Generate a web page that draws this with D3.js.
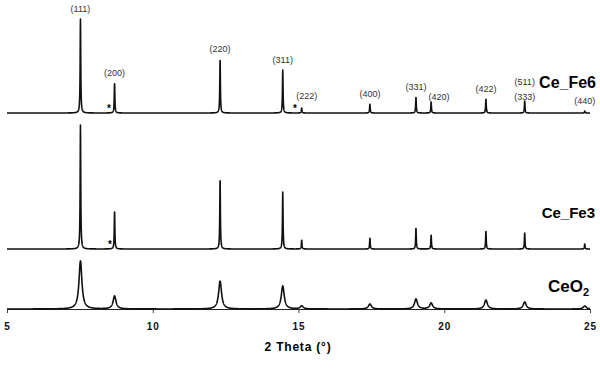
<!DOCTYPE html>
<html>
<head>
<meta charset="utf-8">
<script src="https://cdn.jsdelivr.net/npm/d3@7"></script>
<style>
  body { margin: 0; background: #fff; }
  svg { display: block; font-family: "Liberation Sans", Arial, sans-serif; }
</style>
</head>
<body>
<svg id="chart" width="600" height="375"></svg>
<script>
// reflections, shared by the three patterns
const hkl = ["(111)", "(200)", "(220)", "(311)", "(222)", "(400)", "(331)", "(420)", "(422)", "(511)", "(440)"];
const twoTheta = [7.52, 8.69, 12.31, 14.46, 15.11, 17.45, 19.03, 19.55, 21.43, 22.76, 24.82];

// peak intensities (arb. units) per sample
const ceFe6 = [94, 30, 54, 43, 5, 9, 16, 11, 14, 12, 2];
const ceFe3 = [124, 38, 70, 57, 9, 11, 21, 14, 18, 16, 5];
const ceO2 = [48, 13, 28, 23, 3, 5, 10, 6, 9, 7, 3];

// impurity marks (*)
const starsFe6 = [8.5, 14.88];
const starsFe3 = [8.53];

const xTicks = [5, 10, 15, 20, 25];

const svg = d3.select("#chart");
const x = d3.scaleLinear().domain([5, 25]).range([7, 590]);
const y = d3.scaleLinear().domain([0, 300]).range([309, 9]);

const series = [
  { name: "CeO2", peaks: ceO2, offset: 0, hw: 0.06, stars: [] },
  { name: "Ce_Fe3", peaks: ceFe3, offset: 60, hw: 0.012, stars: starsFe3 },
  { name: "Ce_Fe6", peaks: ceFe6, offset: 196, hw: 0.012, stars: starsFe6 }
];

// line profile: sum of lorentzians centred on the listed reflections
function profile(s) {
  const pts = [];
  for (let t = 5; t <= 25.0001; t += 0.004) {
    let v = 0;
    s.peaks.forEach((h, i) => {
      const d = (t - twoTheta[i]) / s.hw;
      v += h / (1 + d * d);
    });
    pts.push([t, v]);
  }
  return pts;
}

const line = d3.line()
  .x(d => x(d[0]))
  .y(d => y(d[1]));

// axis
const axis = svg.append("g")
  .attr("transform", `translate(0,${y(0)})`)
  .call(d3.axisBottom(x).tickValues(xTicks).tickSize(4).tickPadding(10).tickSizeOuter(0));
axis.select(".domain").attr("stroke", "#222").attr("stroke-width", 1.2);
axis.selectAll(".tick line").attr("stroke", "#444");
axis.selectAll(".tick text")
  .attr("font-size", 10).attr("font-weight", "bold")
  .attr("letter-spacing", "1px").attr("fill", "#111");

svg.append("text")
  .attr("x", 298).attr("y", 351)
  .attr("text-anchor", "middle")
  .attr("font-size", 12).attr("font-weight", "bold")
  .attr("letter-spacing", "0.8px")
  .text("2 Theta (°)");

series.forEach(s => {
  const pts = profile(s).map(p => [p[0], p[1] + s.offset]);
  svg.append("path")
    .datum(pts)
    .attr("fill", "none")
    .attr("stroke", "#111")
    .attr("stroke-width", 1.6)
    .attr("stroke-linejoin", "round")
    .attr("d", line);

  svg.selectAll(null)
    .data(s.stars)
    .enter().append("text")
    .attr("x", d => x(d))
    .attr("y", y(s.offset) - 1)
    .attr("text-anchor", "middle")
    .attr("font-size", 10).attr("font-weight", "bold")
    .text("*");
});

// hkl labels over Ce_Fe6
const fe6 = series[2];
const nudge = { "(420)": [8, 5], "(222)": [5, -2], "(511)": [0, -9] };
hkl.forEach((lab, i) => {
  const top = y(fe6.offset + fe6.peaks[i]);
  const n = nudge[lab] || [0, 0];
  svg.append("text")
    .attr("x", x(twoTheta[i]) + n[0])
    .attr("y", top - 7 + n[1])
    .attr("text-anchor", "middle")
    .attr("font-size", 9)
    .attr("fill", "#333")
    .text(lab);
  if (lab === "(511)") {
    svg.append("text")
      .attr("x", x(twoTheta[i]))
      .attr("y", top - 1)
      .attr("text-anchor", "middle")
      .attr("font-size", 9)
      .attr("fill", "#333")
      .text("(333)");
  }
});

// sample names
svg.append("text")
  .attr("x", 596).attr("y", 88)
  .attr("text-anchor", "end")
  .attr("font-size", 16).attr("font-weight", "bold")
  .text("Ce_Fe6");

svg.append("text")
  .attr("x", 595).attr("y", 218)
  .attr("text-anchor", "end")
  .attr("font-size", 15).attr("font-weight", "bold")
  .text("Ce_Fe3");

const ceo = svg.append("text")
  .attr("x", 589).attr("y", 292)
  .attr("text-anchor", "end")
  .attr("font-size", 17).attr("font-weight", "bold");
ceo.append("tspan").text("CeO");
ceo.append("tspan").attr("font-size", 11).attr("dy", 4).text("2");
</script>
</body>
</html>
